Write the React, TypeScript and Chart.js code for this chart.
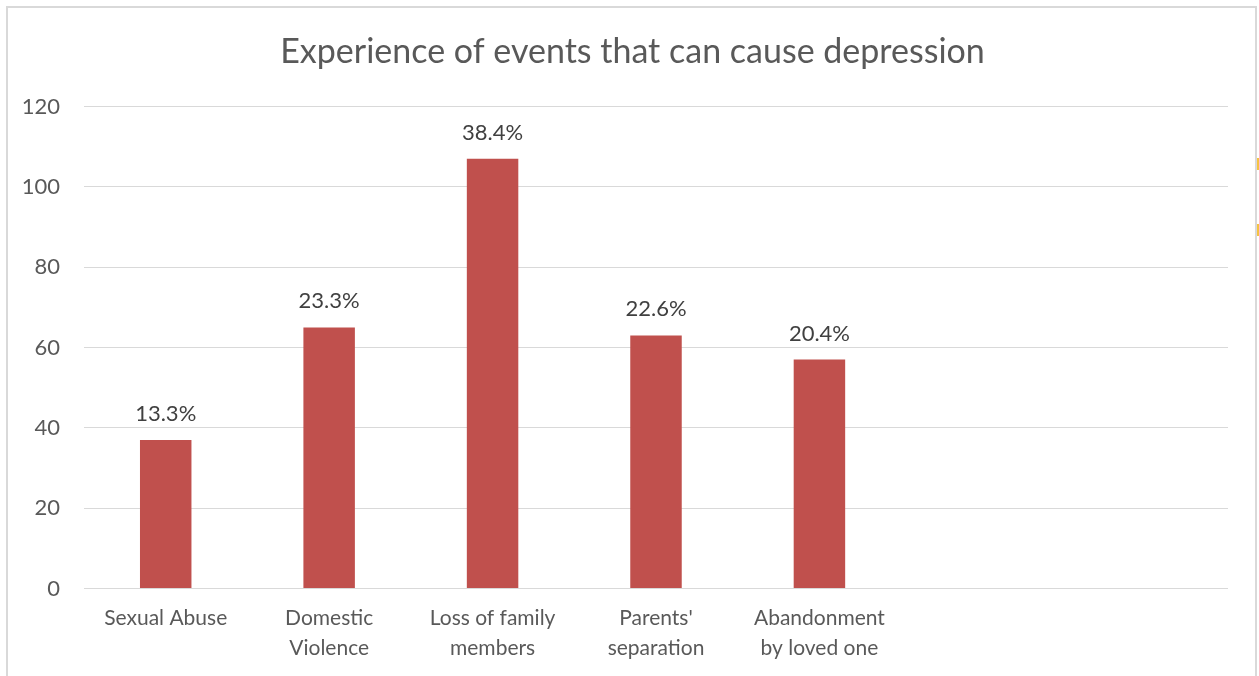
import React, { useEffect, useRef } from "react";
import { Chart, registerables } from "chart.js";

Chart.register(...registerables);

const chartTitle = "Experience of events that can cause depression";
const categories: (string | string[])[] = [
  "Sexual Abuse",
  ["Domestic", "Violence"],
  ["Loss of family", "members"],
  ["Parents'", "separation"],
  ["Abandonment", "by loved one"],
  "",
  "",
];
const counts: (number | null)[] = [37, 65, 107, 63, 57, null, null];
const shareLabels: string[] = ["13.3%", "23.3%", "38.4%", "22.6%", "20.4%", "", ""];
const yTicks = { min: 0, max: 120, step: 20 };

const FONT = "Lato, 'Open Sans', sans-serif";
const TEXT = "#595959";

// Title centred on the whole frame rather than on the plot area
const frameTitlePlugin = {
  id: "frameTitle",
  afterDraw(chart: any) {
    const { ctx } = chart;
    ctx.save();
    ctx.font = `34px ${FONT}`;
    ctx.fillStyle = TEXT;
    ctx.textAlign = "center";
    ctx.textBaseline = "middle";
    ctx.fillText(chartTitle, chart.width / 2 + 3, 52);
    ctx.restore();
  },
};

// Percentage share printed above each bar
const shareLabelPlugin = {
  id: "shareLabels",
  afterDatasetsDraw(chart: any) {
    const { ctx } = chart;
    const meta = chart.getDatasetMeta(0);
    ctx.save();
    ctx.font = `22px ${FONT}`;
    ctx.fillStyle = "#404040";
    ctx.textAlign = "center";
    ctx.textBaseline = "alphabetic";
    meta.data.forEach((bar: any, i: number) => {
      if (counts[i] == null || !shareLabels[i]) return;
      ctx.fillText(shareLabels[i], bar.x, bar.y - 19);
    });
    ctx.restore();
  },
};

export default function App() {
  const canvasRef = useRef<HTMLCanvasElement | null>(null);

  useEffect(() => {
    if (!canvasRef.current) return;
    const chart = new Chart(canvasRef.current, {
      type: "bar",
      data: {
        labels: categories,
        datasets: [
          {
            data: counts,
            backgroundColor: "#c0504d",
            borderWidth: 0,
            barPercentage: 0.315,
            categoryPercentage: 1,
          },
        ],
      },
      options: {
        animation: false,
        responsive: false,
        layout: { padding: { left: 0, right: 31, top: 106.5, bottom: 0 } },
        plugins: {
          legend: { display: false },
          tooltip: { enabled: false },
          title: { display: false },
        },
        scales: {
          x: {
            grid: { display: false, drawTicks: false },
            border: { display: false },
            ticks: {
              autoSkip: false,
              maxRotation: 0,
              color: TEXT,
              padding: 15,
              font: { family: FONT, size: 21, lineHeight: 1.43 },
            },
            afterFit(scale: any) {
              scale.height = 87.5;
            },
          },
          y: {
            min: yTicks.min,
            max: yTicks.max,
            grid: { color: "#d9d9d9", drawTicks: false },
            border: { display: false },
            ticks: {
              stepSize: yTicks.step,
              color: TEXT,
              padding: 24,
              font: { family: FONT, size: 22 },
            },
            afterFit(scale: any) {
              scale.width = 84;
            },
          },
        },
      },
      plugins: [shareLabelPlugin, frameTitlePlugin],
    });
    return () => chart.destroy();
  }, []);

  return (
    <div style={{ position: "fixed", left: 0, top: 0, width: 1259, height: 676, background: "#fff", overflow: "hidden" }}>
      <div
        style={{
          position: "absolute",
          left: 6,
          top: 6,
          width: 1247,
          height: 700,
          border: "2px solid #d9d9d9",
        }}
      />
      <div style={{ position: "absolute", left: 1257, top: 158, width: 2, height: 12, background: "#f5c242" }} />
      <div style={{ position: "absolute", left: 1257, top: 224, width: 2, height: 12, background: "#f5c242" }} />
      <canvas ref={canvasRef} width={1259} height={676} style={{ position: "absolute", left: 0, top: 0 }} />
    </div>
  );
}
